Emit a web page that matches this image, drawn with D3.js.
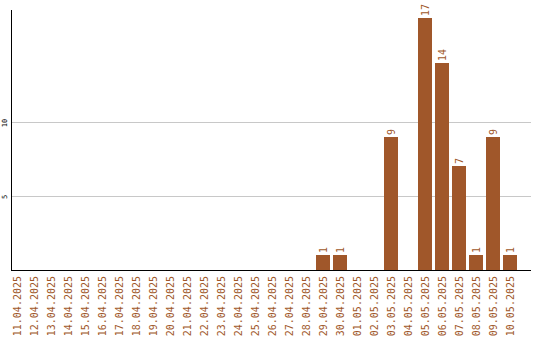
<!DOCTYPE html>
<html>
<head>
<meta charset="utf-8">
<script src="https://cdn.jsdelivr.net/npm/d3@7"></script>
<style>
  body { margin: 0; background: #fff; }
  svg text { font-family: "DejaVu Sans Mono", "Liberation Mono", monospace; }
</style>
</head>
<body>
<div id="chart-area"></div>
<script>
var dates = ["11.04.2025", "12.04.2025", "13.04.2025", "14.04.2025", "15.04.2025",
    "16.04.2025", "17.04.2025", "18.04.2025", "19.04.2025", "20.04.2025",
    "21.04.2025", "22.04.2025", "23.04.2025", "24.04.2025", "25.04.2025",
    "26.04.2025", "27.04.2025", "28.04.2025", "29.04.2025", "30.04.2025",
    "01.05.2025", "02.05.2025", "03.05.2025", "04.05.2025", "05.05.2025",
    "06.05.2025", "07.05.2025", "08.05.2025", "09.05.2025", "10.05.2025"];
var counts = [0, 0, 0, 0, 0, 0, 0, 0, 0, 0,
    0, 0, 0, 0, 0, 0, 0, 0, 1, 1,
    0, 0, 9, 0, 17, 14, 7, 1, 9, 1];
var yTicks = [5, 10];

var width = 540,
    height = 340,
    plotLeft = 11,
    plotRight = 531,
    plotTop = 10,
    base = 270;

var barColor = "#a0572a";

var svg = d3.select("#chart-area")
    .append("svg")
        .attr("width", width)
        .attr("height", height);

var x = d3.scaleBand()
    .domain(dates)
    .range([10, 517])
    .paddingInner(3 / 17)
    .paddingOuter(0);

var y = d3.scaleLinear()
    .domain([0, 17.57])
    .range([base, plotTop]);

// grid lines
svg.selectAll(".grid")
    .data(yTicks)
  .enter().append("line")
    .attr("class", "grid")
    .attr("x1", plotLeft + 1)
    .attr("x2", plotRight)
    .attr("y1", function(d) { return Math.round(y(d)) + 0.5; })
    .attr("y2", function(d) { return Math.round(y(d)) + 0.5; })
    .attr("stroke", "#c8c8c8")
    .attr("stroke-width", 1);

// y tick labels, rotated
svg.selectAll(".ytick")
    .data(yTicks)
  .enter().append("text")
    .attr("class", "ytick")
    .attr("transform", function(d) {
        return "translate(7," + (Math.round(y(d)) + 1) + ") rotate(-90)";
    })
    .attr("text-anchor", "middle")
    .style("font-size", "7px")
    .attr("fill", "#000")
    .text(function(d) { return d; });

// bars
var data = dates.map(function(d, i) { return { key: d, value: counts[i] }; });
var shown = data.filter(function(d) { return d.value > 0; });

svg.selectAll(".bar")
    .data(shown)
  .enter().append("rect")
    .attr("class", "bar")
    .attr("x", function(d) { return x(d.key); })
    .attr("width", x.bandwidth())
    .attr("y", function(d) { return Math.round(y(d.value)); })
    .attr("height", function(d) { return base - Math.round(y(d.value)); })
    .attr("fill", barColor);

// value labels
svg.selectAll(".val")
    .data(shown)
  .enter().append("text")
    .attr("class", "val")
    .attr("transform", function(d) {
        return "translate(" + (x(d.key) + x.bandwidth() / 2 + 3.5) + "," + (Math.round(y(d.value)) - 2) + ") rotate(-90)";
    })
    .style("font-size", "10px")
    .attr("fill", barColor)
    .text(function(d) { return d.value; });

// axis lines
svg.append("line")
    .attr("x1", plotLeft + 0.5).attr("x2", plotLeft + 0.5)
    .attr("y1", plotTop).attr("y2", base + 1)
    .attr("stroke", "#000").attr("stroke-width", 1);

svg.append("line")
    .attr("x1", plotLeft).attr("x2", plotRight)
    .attr("y1", base + 0.5).attr("y2", base + 0.5)
    .attr("stroke", "#000").attr("stroke-width", 1);

// x labels
svg.selectAll(".xlab")
    .data(dates)
  .enter().append("text")
    .attr("class", "xlab")
    .attr("transform", function(d) {
        return "translate(" + (x(d) + x.bandwidth() / 2 + 3.5) + "," + (base + 6) + ") rotate(-90)";
    })
    .attr("text-anchor", "end")
    .style("font-size", "10px")
    .attr("fill", barColor)
    .text(function(d) { return d; });
</script>
</body>
</html>
